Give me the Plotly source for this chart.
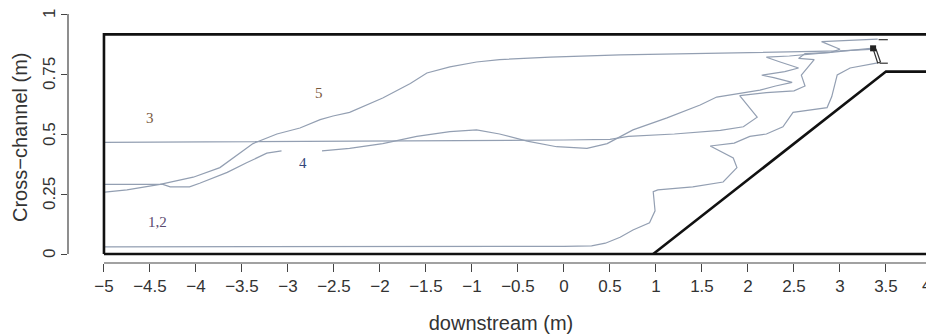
import plotly.graph_objects as go

# ---- data ----
x_ticks = [-5, -4.5, -4, -3.5, -3, -2.5, -2, -1.5, -1, -0.5, 0, 0.5, 1, 1.5, 2, 2.5, 3, 3.5, 4]
x_ticktext = ["\u22125", "\u22124.5", "\u22124", "\u22123.5", "\u22123", "\u22122.5", "\u22122", "\u22121.5",
              "\u22121", "\u22120.5", "0", "0.5", "1", "1.5", "2", "2.5", "3", "3.5", "4"]
y_ticks = [0, 0.25, 0.5, 0.75, 1]
y_ticktext = ["0", "0.25", "0.5", "0.75", "1"]

# channel outline and sloping bank
box_x = [-5, 4, 4, -5, -5]
box_y = [0, 0, 0.915, 0.915, 0]
bank_x = [0.97, 3.5, 4.0]
bank_y = [0, 0.76, 0.76]

# track 1,2
t12_x = [-5.0, -3.0, -1.0, 0.0, 0.3, 0.45, 0.61, 0.75, 0.93, 0.99, 0.97, 1.02, 1.40, 1.73, 1.88, 1.84,
         1.59, 1.85, 2.02, 2.20, 2.38, 2.49, 2.86, 2.91, 2.97, 3.11, 3.41]
t12_y = [0.030, 0.030, 0.031, 0.032, 0.034, 0.045, 0.07, 0.10, 0.13, 0.18, 0.26, 0.267, 0.28, 0.30, 0.36, 0.40,
         0.45, 0.462, 0.49, 0.50, 0.53, 0.59, 0.61, 0.655, 0.746, 0.775, 0.796]

# track 3
t3_x = [-5.0, -3.0, -1.0, 0.0, 0.5, 0.7, 1.2, 1.7, 1.95, 2.10, 1.91, 2.20, 2.50, 2.62, 2.58, 2.66, 2.72,
        2.55, 2.62, 2.90, 3.20, 3.36]
t3_y = [0.465, 0.468, 0.472, 0.475, 0.478, 0.49, 0.50, 0.515, 0.53, 0.57, 0.66, 0.672, 0.68, 0.70, 0.745,
        0.78, 0.81, 0.815, 0.835, 0.84, 0.85, 0.858]

# track 4 (gap in record between the two pieces)
t4_x = [-5.0, -4.36, -4.28, -4.07, -3.96, -3.66, -3.45, -3.23, -3.07, None,
        -2.63, -2.33, -1.97, -1.60, -1.24, -0.95, -0.70, -0.40, -0.08, 0.25, 0.47, 0.61, 0.75, 1.12, 1.48,
        1.66, 1.91, 2.13, 2.30, 2.48, 2.28, 2.15, 2.40, 2.55, 2.35, 2.20, 2.45, 2.70, 2.90, 3.00, 2.80,
        3.10, 3.41]
t4_y = [0.29, 0.29, 0.28, 0.28, 0.295, 0.34, 0.38, 0.42, 0.43, None,
        0.43, 0.44, 0.46, 0.49, 0.51, 0.517, 0.50, 0.47, 0.447, 0.44, 0.46, 0.49, 0.517, 0.567, 0.621,
        0.654, 0.671, 0.683, 0.70, 0.715, 0.735, 0.745, 0.76, 0.775, 0.80, 0.82, 0.825, 0.835, 0.84,
        0.853, 0.885, 0.89, 0.895]

# track 5
t5_x = [-4.99, -4.75, -4.39, -4.03, -3.74, -3.52, -3.38, -3.12, -2.87, -2.65, -2.51, -2.33, -1.97, -1.67,
        -1.49, -1.24, -0.95, -0.70, -0.15, 0.61, 2.02, 3.00, 3.33]
t5_y = [0.258, 0.267, 0.29, 0.32, 0.36, 0.42, 0.46, 0.50, 0.525, 0.56, 0.575, 0.59, 0.65, 0.71,
        0.754, 0.78, 0.80, 0.81, 0.82, 0.83, 0.84, 0.846, 0.853]

# end-of-track markers
end_sq_x = [3.36]
end_sq_y = [0.857]
end_tick_top_x = [3.42, 3.52]
end_tick_top_y = [0.893, 0.893]
end_tick_bot_x = [3.43, 3.52]
end_tick_bot_y = [0.795, 0.795]
end_link_x = [3.36, 3.41, 3.44, 3.39]
end_link_y = [0.855, 0.796, 0.80, 0.855]

# track labels
lab_text = ["3", "5", "4", "1,2"]
lab_x = [-4.5, -2.66, -2.84, -4.42]
lab_y = [0.567, 0.67, 0.38, 0.135]
lab_col = ["#7a5a3c", "#7a5a3c", "#34457a", "#5a4a70"]

# ---- figure ----
track_col = "#939fb2"
fig = go.Figure()
for xs, ys in [(t12_x, t12_y), (t3_x, t3_y), (t4_x, t4_y), (t5_x, t5_y)]:
    fig.add_trace(go.Scatter(x=xs, y=ys, mode="lines", line=dict(color=track_col, width=1.2),
                             connectgaps=False, hoverinfo="skip"))

fig.add_trace(go.Scatter(x=box_x, y=box_y, mode="lines", line=dict(color="#111", width=2.6)))
fig.add_trace(go.Scatter(x=bank_x, y=bank_y, mode="lines", line=dict(color="#111", width=2.6)))

for xs, ys in [(end_tick_top_x, end_tick_top_y), (end_tick_bot_x, end_tick_bot_y), (end_link_x, end_link_y)]:
    fig.add_trace(go.Scatter(x=xs, y=ys, mode="lines", line=dict(color="#333", width=1.2)))
fig.add_trace(go.Scatter(x=end_sq_x, y=end_sq_y, mode="markers",
                         marker=dict(symbol="square", size=6, color="#222")))

for t, x, y, c in zip(lab_text, lab_x, lab_y, lab_col):
    fig.add_annotation(x=x, y=y, text=t, showarrow=False,
                       font=dict(family="Liberation Serif, serif", size=15, color=c))

# y tick labels (rotated, parallel to the axis as in R)
for v, t in zip(y_ticks, y_ticktext):
    fig.add_annotation(x=0, xref="paper", y=v, yref="y", text=t, showarrow=False, textangle=-90,
                       xanchor="center", yanchor="middle", xshift=-19,
                       font=dict(size=17, color="#333"))
# last x tick label sits on the window edge; keep it fully inside
fig.add_annotation(x=1, xref="paper", y=0, yref="paper", text=x_ticktext[-1], showarrow=False,
                   xanchor="right", yanchor="top", yshift=-11, xshift=-1,
                   font=dict(size=17, color="#333"))
# y-axis title
fig.add_annotation(x=0, xref="paper", y=0.5, yref="paper", text="Cross\u2212channel (m)", showarrow=False,
                   textangle=-90, xanchor="center", yanchor="middle", xshift=-48,
                   font=dict(size=20, color="#333"))

# axis lines (R style: only over tick range)
fig.add_shape(type="line", xref="x", yref="paper", x0=-5, x1=4, y0=0, y1=0,
              line=dict(color="#444", width=1.2))
fig.add_shape(type="line", xref="paper", yref="y", x0=0, x1=0, y0=0, y1=1,
              line=dict(color="#444", width=1.2))

# page body adds 8px offset; compensate so figure fills the 934x335 window
fig.update_layout(
    width=926, height=327,
    margin=dict(l=60, r=0, t=3, b=72),
    paper_bgcolor="white", plot_bgcolor="white",
    showlegend=False,
    font=dict(family="Liberation Sans, Arial, sans-serif", color="#333"),
)
fig.update_xaxes(range=[-5.391, 4.022], tickvals=x_ticks, ticktext=x_ticktext[:-1] + [""],
                 ticks="outside", ticklen=8, tickcolor="#444", tickwidth=1.2,
                 showgrid=False, zeroline=False, showline=False,
                 tickfont=dict(size=17, color="#333"),
                 title=dict(text="downstream (m)", font=dict(size=20, color="#333"), standoff=20),
                 automargin=False)
fig.update_yaxes(range=[-0.0375, 1.0125], tickvals=y_ticks, ticktext=[""] * len(y_ticks),
                 ticks="outside", ticklen=6, tickcolor="#444", tickwidth=1.2,
                 showgrid=False, zeroline=False, showline=False,
                 automargin=False)

fig.write_html("out.html")
